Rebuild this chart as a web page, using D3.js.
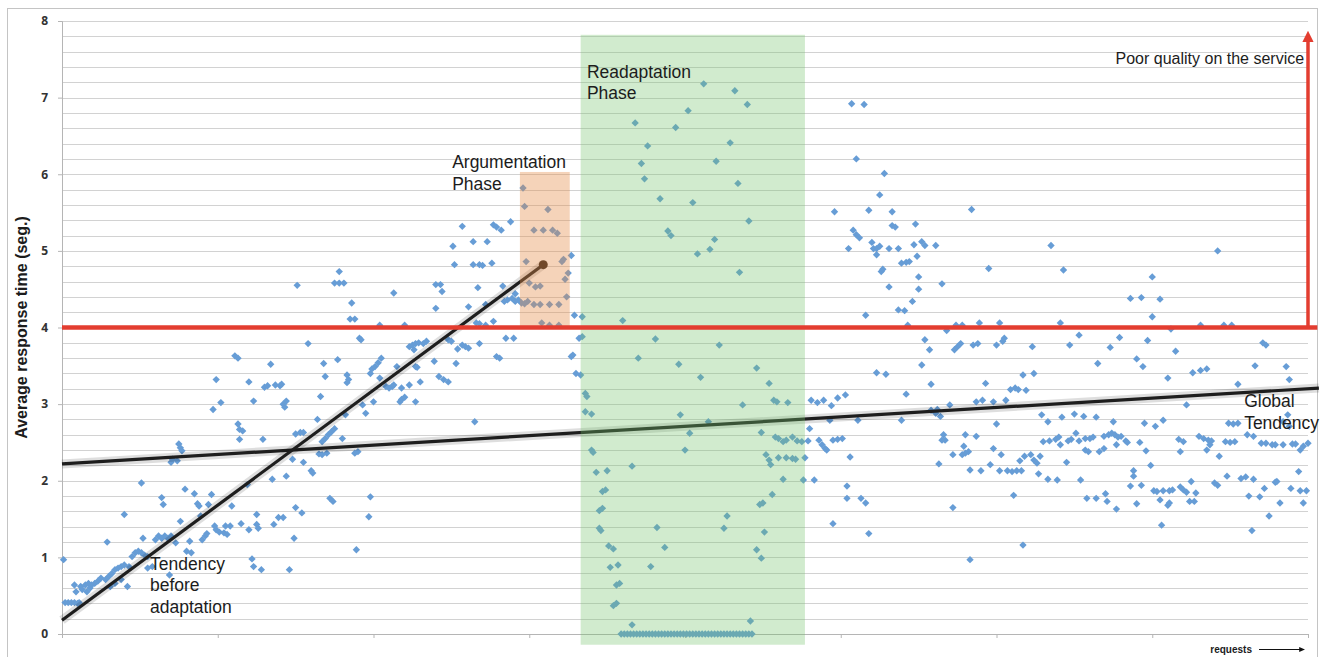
<!DOCTYPE html>
<html>
<head>
<meta charset="utf-8">
<script src="https://cdn.jsdelivr.net/npm/d3@7"></script>
<style>
body { margin: 0; background: #fff; }
text { font-family: "Liberation Sans", Arial, sans-serif; fill: #1c1c1c; }
.axis path, .axis line { stroke: #b5b5b5; }
.axis text { font-family: "Open Sans", "Liberation Sans", sans-serif; font-weight: bold; font-size: 12px; fill: #333; }
</style>
</head>
<body>
<div id="chart"></div>
<script>
// axis ticks
var yTicks = [0, 1, 2, 3, 4, 5, 6, 7, 8];
var xTicks = [0, 100, 200, 300, 400, 500, 600, 700, 800];

// [request, avg response time (s)], grouped by phase
var beforeAdaptation = [
  [1,0.97],[2,0.41],[4,0.41],[6,0.41],[8,0.41],[10,0.40],[11,0.41],[8,0.64],[9,0.55],[12,0.62],[13,0.58],
  [15,0.64],[17,0.66],[19,0.64],[21,0.66],[23,0.69],[25,0.73],[16,0.55],[18,0.60],[28,0.71],[30,0.75],
  [32,0.79],[34,0.84],[36,0.86],[38,0.88],[40,0.90],[43,0.88],[29,1.20],[31,0.62],[34,0.66],[38,0.71],
  [42,0.62],[40,1.56],[45,1.01],[47,1.06],[49,1.08],[51,1.06],[53,1.03],[55,1.01],[51,1.97],[52,1.25],
  [55,0.86],[58,0.88],[60,1.23],[62,1.28],[64,1.25],[66,1.28],[68,1.25],[70,1.28],[64,1.78],[65,1.69],
  [69,0.77],[70,2.24],[71,2.28],[74,2.26],[75,2.48],[76,2.43],[77,2.39],[73,1.19],[76,1.47],[79,1.89],
  [80,1.08],[82,1.21],[83,1.06],[85,1.83],[87,1.70],[88,1.67],[89,1.54],[90,1.23],[92,1.28],[93,1.31],
  [94,1.69],[96,1.82],[97,2.93],[98,1.41],[99,1.36],[99,3.32],[102,3.02],[101,1.33],[104,1.32],[105,1.41],
  [106,1.30],[108,1.41],[109,1.67],[111,3.63],[113,3.60],[113,2.74],[114,2.67],[116,2.65],[114,2.54],
  [115,1.44],[119,1.95],[120,3.29],[120,1.36],[122,0.98],[123,0.88],[123,3.04],[125,1.56],[125,1.43],
  [126,1.38],[128,0.84],[129,2.54],[130,3.22],[132,3.24],[134,3.52],[135,2.02],[136,1.43],[137,3.25],
  [140,3.24],[141,3.26],[139,1.52],[142,1.52],[142,3.00],[143,2.96],[144,3.04],[144,2.06],[146,0.84],
  [148,2.28],[149,1.25],[150,1.65],[150,2.61],[153,2.63],[155,2.63],[154,1.58],[155,2.24],[158,3.79],
  [160,2.13],[161,2.10],[164,2.80],[165,2.35],[151,4.55],
  [168,3.53],[169,3.36],[166,3.10],[177,3.58],[183,3.38],[184,3.32],[183,3.28],[191,3.86],[192,3.84],
  [198,3.40],[199,3.46],[201,3.49],[203,3.54],[205,3.60],[193,2.99],[195,2.88],[200,3.03],[182,2.86],
  [167,2.51],[169,2.55],[171,2.60],[173,2.64],[175,2.68],[180,2.55],[167,2.34],[170,2.36],[188,2.36],
  [190,2.38],[204,3.34],[208,3.23],[210,3.21],[212,3.23],[213,3.25],[215,3.49],[218,3.21],[217,3.03],
  [218,3.06],[220,3.09],[223,3.25],[223,3.75],[225,3.77],[227,3.79],[229,3.80],[232,3.79],[234,3.82],
  [226,3.71],[227,3.49],[228,3.48],[227,3.03],[230,3.29],[239,3.56],[242,3.36],[245,3.32],[248,3.29],
  [248,3.84],[250,3.82],[253,3.53],[254,3.72],[257,3.77],[259,3.75],[261,3.73],[265,2.77],[268,3.79],
  [279,3.62],[281,3.60],[285,3.86],[290,3.86],[172,1.77],[174,1.73],[189,1.10],[197,1.53],[198,1.79],
  [178,4.73],[175,4.58],[178,4.58],[181,4.58],[186,4.32],[185,4.11],[188,4.11],[204,4.03],[213,4.45],
  [220,4.03],[240,4.56],[243,4.56],[244,4.47],[240,4.25],[251,5.06],[252,4.82],[257,5.32],[261,4.27],
  [264,5.12],[264,4.82],[268,4.82],[270,4.81],[267,4.52],[266,4.06],[268,4.05],[272,4.03],[273,5.12],
  [272,4.30],[276,4.84],[277,5.34],[279,5.31],[282,5.27],[277,4.08],[283,4.54],[284,4.34],[286,4.36],
  [288,5.38],[289,4.38],[291,4.34],[293,4.36],[291,4.44]
];

var argumentationPhase = [
  [295,4.32],[296,5.82],[297,5.58],[312,5.54],[303,5.27],[309,5.27],[315,5.27],[318,5.23],[298,4.86],
  [309,4.82],[321,4.86],[322,4.89],[327,4.94],[325,4.71],[323,4.63],[300,4.58],[304,4.53],[307,4.54],
  [324,4.40],[297,4.31],[299,4.34],[303,4.30],[307,4.30],[313,4.30],[319,4.30],[308,4.06],[313,4.03],
  [319,4.03],[327,3.62],[328,3.64],[329,4.16]
];

var readaptationPhase = [
  [330,3.40],[333,3.38],[332,3.86],[334,3.88],[334,4.14],[360,4.09],[368,6.67],[336,3.14],[337,3.10],
  [336,2.90],[340,2.87],[370,3.60],[340,2.40],[341,2.37],[343,2.11],[350,2.13],[366,2.19],[347,1.86],
  [349,1.88],[345,1.61],[347,1.64],[345,1.38],[346,1.35],[351,1.15],[354,1.11],[352,0.87],[357,0.90],
  [356,0.64],[358,0.66],[354,0.37],[356,0.40],[366,0.12],
  [412,7.18],[432,7.09],[440,6.91],[402,6.83],[394,6.61],[376,6.37],[429,6.41],[372,6.14],[420,6.17],
  [374,5.94],[434,5.88],[384,5.68],[405,5.63],[441,5.39],[389,5.26],[391,5.20],[419,5.15],[416,5.02],
  [408,4.96],[435,4.72],
  [381,3.85],[422,3.77],[396,3.52],[446,3.47],[410,3.35],[454,3.27],[437,2.99],[457,3.05],[459,3.03],
  [466,3.02],[397,2.86],[415,2.77],[403,2.62],[449,2.63],[400,2.40],[458,2.57],[460,2.55],[463,2.51],
  [465,2.53],[469,2.57],[472,2.52],[475,2.51],[452,2.34],[454,2.27],[455,2.21],[460,2.30],[465,2.30],
  [469,2.29],[471,2.28],[463,2.02],[476,2.01],[456,1.82],[448,1.69],[450,1.71],[427,1.54],[382,1.39],
  [425,1.38],[451,1.33],[387,1.13],[446,1.10],[449,0.99],[378,0.88],[442,0.17],[477,2.30],
  [359,0],[361,0],[363,0],[365,0],[367,0],[369,0],[371,0],[373,0],[375,0],[377,0],[379,0],[381,0],
  [383,0],[385,0],[387,0],[389,0],[391,0],[393,0],[395,0],[397,0],[399,0],[401,0],[403,0],[405,0],
  [407,0],[409,0],[411,0],[413,0],[415,0],[417,0],[419,0],[421,0],[423,0],[425,0],[427,0],[429,0],
  [431,0],[433,0],[435,0],[437,0],[439,0],[441,0],[443,0]
];

var afterReadaptation = [
  [479,2.52],[480,2.68],[483,2.01],[481,3.05],[485,3.02],[489,3.05],[494,2.98],[498,3.08],[503,3.12],
  [493,2.79],[486,2.53],[488,2.47],[490,2.42],[491,2.40],[495,2.53],[498,2.54],[501,2.55],[506,2.31],
  [504,1.93],[504,1.77],[513,1.77],[516,1.71],[495,1.44],[518,1.31],[511,2.79],[523,3.41],[529,3.39],
  [539,2.79],[542,3.13],[552,3.51],[554,3.84],[557,3.71],[558,3.26],[558,2.92],[561,2.88],[562,2.93],
  [564,2.84],[573,3.71],[575,3.75],[577,3.79],[585,3.77],[588,3.79],[593,3.27],[587,3.03],[591,3.05],
  [570,2.99],[566,2.60],[567,2.53],[565,2.53],[580,2.60],[587,2.58],[579,2.45],[580,2.36],[582,2.38],
  [578,2.34],[572,2.34],[563,2.22],[583,2.14],[590,2.13],[572,1.65],[583,0.97],
  [507,6.92],[515,6.91],[510,6.20],[528,6.01],[525,5.73],[496,5.51],[518,5.53],[533,5.51],[584,5.54],
  [533,5.33],[535,5.31],[548,5.35],[508,5.27],[510,5.21],[512,5.17],[505,5.03],[520,5.11],[521,5.03],
  [523,5.03],[525,5.06],[523,4.95],[531,5.03],[537,5.03],[547,5.08],[552,5.12],[554,5.07],[561,5.07],
  [539,4.84],[542,4.85],[544,4.86],[549,4.93],[526,4.73],[527,4.76],[550,4.66],[531,4.53],[550,4.50],
  [565,4.57],[546,4.34],[537,4.23],[541,4.22],[516,4.16],[595,4.77],[543,4.03],[568,3.96],[574,4.03],
  [578,4.03],[589,4.06],
  [635,5.07],[643,4.75],[742,5.00],[700,4.66],[686,4.38],[693,4.39],[705,4.37],[700,4.14],[602,4.06],
  [641,4.06],[731,4.03],[746,4.03],[751,4.03],[712,3.98],
  [600,3.77],[604,3.82],[605,3.86],[623,3.75],[647,3.77],[653,3.90],[673,3.74],[679,3.87],[697,3.83],
  [715,3.69],[665,3.53],[690,3.59],[694,3.49],[617,3.38],[624,3.40],[710,3.34],[726,3.41],[731,3.44],
  [735,3.46],[755,3.26],[766,3.50],[771,3.80],[773,3.77],[786,3.49],[788,3.32],[609,3.19],[612,3.21],
  [614,3.19],[619,3.18],[598,3.03],[606,3.05],[722,2.99],[600,2.74],[598,2.42],[603,2.34],[596,2.21],
  [602,2.13],[607,2.13],[610,2.12],[613,2.13],[616,2.13],[615,2.26],[618,2.32],[622,2.34],[624,2.27],
  [626,2.23],[628,2.32],[627,2.09],[629,2.86],[633,2.77],[642,2.83],[650,2.87],[656,2.84],[664,2.83],
  [630,2.51],[634,2.52],[638,2.54],[640,2.57],[641,2.47],[646,2.52],[648,2.54],[651,2.62],[653,2.52],
  [657,2.55],[660,2.55],[662,2.57],[657,2.40],[659,2.38],[666,2.38],[669,2.42],[669,2.58],[672,2.60],
  [674,2.62],[676,2.60],[678,2.57],[680,2.58],[683,2.52],[677,2.47],[684,2.50],[675,2.77],[695,2.75],
  [702,2.71],[707,2.79],[692,2.50],[696,2.39],[699,2.20],[688,2.13],[688,2.06],[686,1.93],[693,1.94],
  [690,1.70],[677,1.63],[670,1.83],[671,1.73],[658,1.77],[664,1.77],[654,2.01],[645,2.24],[639,2.01],
  [633,2.02],[611,1.81],[617,1.16],[701,1.87],[703,1.86],[707,1.87],[711,1.87],[713,1.88],[718,1.92],
  [720,1.88],[722,1.85],[705,1.75],[710,1.68],[711,1.71],[724,1.73],[727,1.73],[728,1.84],[725,1.99],
  [706,1.42],[717,2.54],[720,2.51],[718,2.38],[730,2.58],[733,2.55],[736,2.53],[738,2.52],[737,2.47],
  [735,2.40],[743,2.32],[747,2.51],[750,2.50],[753,2.51],[748,2.06],[740,1.97],[742,1.94],[757,2.03],
  [760,2.05],[765,2.02],[762,1.80],[769,1.79],[772,1.90],[779,1.98],[780,1.99],[775,1.54],[782,1.71],
  [764,1.35],[789,1.90],[795,1.87],[799,1.87],[797,1.71],[794,2.12],[749,2.75],[752,2.74],[755,2.75],
  [761,2.60],[765,2.58],[770,2.49],[773,2.49],[777,2.47],[779,2.47],[784,2.47],[790,2.48],[792,2.48],
  [795,2.40],[797,2.45],[800,2.49],[784,2.77],[787,2.86],[788,2.71]
];

// trend lines, threshold and phase spans
var tendencyBefore = [[0, 0.18], [309, 4.82]];
var globalTendency = [[0, 2.22], [807, 3.21]];
var qualityThreshold = 4;
var thresholdEnd = 806;
var poorQualityArrow = [[800, 4], [800, 7.8]];
var argumentationSpan = {from: 294, to: 326, low: 4, high: 6.03};
var readaptationSpan = {from: 333, to: 477, low: -0.14, high: 7.82};


var width = 1327, height = 657;

var svg = d3.select("#chart")
    .append("svg")
    .attr("width", width)
    .attr("height", height);

var x = d3.scaleLinear().domain([0, 800]).range([62, 1308]);
var y = d3.scaleLinear().domain([0, 8]).range([634, 21]);

// outer frame
svg.append("rect")
    .attr("x", 7.5).attr("y", 8.5)
    .attr("width", 1310).attr("height", 670)
    .attr("fill", "none")
    .attr("stroke", "#c4c4c4");

// horizontal gridlines every 0.2 s
var gridVals = d3.range(1, 41).map(function (i) { return i / 5; });
svg.append("g")
    .selectAll("line")
    .data(gridVals)
    .enter().append("line")
    .attr("x1", x(0)).attr("x2", x(800))
    .attr("y1", function (d) { return Math.round(y(d)) + 0.5; })
    .attr("y2", function (d) { return Math.round(y(d)) + 0.5; })
    .attr("stroke", "#d2d2d2");

// axes
svg.append("g")
    .attr("class", "axis")
    .attr("transform", "translate(" + x(0) + ",0)")
    .call(d3.axisLeft(y).tickValues(yTicks).tickSize(4).tickPadding(10).tickFormat(d3.format("d")));

svg.append("g")
    .attr("class", "axis")
    .attr("transform", "translate(0," + y(0) + ")")
    .call(d3.axisBottom(x).tickValues(xTicks).tickSize(4).tickFormat(""));

// data points as diamonds
var diamond = {
    draw: function (ctx, size) {
        var r = Math.sqrt(size / 2);
        ctx.moveTo(0, -r);
        ctx.lineTo(r, 0);
        ctx.lineTo(0, r);
        ctx.lineTo(-r, 0);
        ctx.closePath();
    }
};
var allPoints = beforeAdaptation.concat(argumentationPhase, readaptationPhase, afterReadaptation);

svg.append("g")
    .selectAll("path")
    .data(allPoints)
    .enter().append("path")
    .attr("d", d3.symbol().type(diamond).size(27))
    .attr("transform", function (d) { return "translate(" + x(d[0]) + "," + y(d[1]) + ")"; })
    .attr("fill", "#679dd6");

var line = d3.line()
    .x(function (d) { return x(d[0]); })
    .y(function (d) { return y(d[1]); });

// tendency lines with a soft shadow
[globalTendency, tendencyBefore].forEach(function (pts) {
    svg.append("path").attr("d", line(pts))
        .attr("stroke", "rgba(0,0,0,0.13)").attr("stroke-width", 9).attr("fill", "none");
    svg.append("path").attr("d", line(pts))
        .attr("stroke", "#1e1e1e").attr("stroke-width", 3.2).attr("fill", "none");
});
svg.append("circle")
    .attr("cx", x(tendencyBefore[1][0]))
    .attr("cy", y(tendencyBefore[1][1]))
    .attr("r", 4.5)
    .attr("fill", "#2a2018");

// phase highlight boxes
svg.append("rect")
    .attr("x", x(argumentationSpan.from))
    .attr("y", y(argumentationSpan.high))
    .attr("width", x(argumentationSpan.to) - x(argumentationSpan.from))
    .attr("height", y(argumentationSpan.low) - y(argumentationSpan.high))
    .attr("fill", "rgba(228,140,70,0.38)");

svg.append("rect")
    .attr("x", x(readaptationSpan.from))
    .attr("y", y(readaptationSpan.high))
    .attr("width", x(readaptationSpan.to) - x(readaptationSpan.from))
    .attr("height", y(readaptationSpan.low) - y(readaptationSpan.high))
    .attr("fill", "rgba(115,195,105,0.33)");

// threshold and arrow
svg.append("defs").append("marker")
    .attr("id", "redhead")
    .attr("viewBox", "0 0 10 10")
    .attr("refX", 5).attr("refY", 5)
    .attr("markerWidth", 3.2).attr("markerHeight", 3.2)
    .attr("orient", "auto")
    .append("path").attr("d", "M0,0L10,5L0,10Z").attr("fill", "#e33d30");

svg.append("line")
    .attr("x1", x(0)).attr("x2", x(thresholdEnd))
    .attr("y1", y(qualityThreshold)).attr("y2", y(qualityThreshold))
    .attr("stroke", "#e33d30").attr("stroke-width", 4.5);

svg.append("path")
    .attr("d", line(poorQualityArrow))
    .attr("stroke", "#e33d30").attr("stroke-width", 3.5)
    .attr("marker-end", "url(#redhead)");

// annotations
function note(lines, xv, yv, anchor, size) {
    var t = svg.append("text")
        .attr("x", x(xv)).attr("y", y(yv))
        .attr("text-anchor", anchor || "start")
        .style("font-size", (size || 17.5) + "px");
    lines.forEach(function (s, i) {
        t.append("tspan").attr("x", x(xv)).attr("dy", i === 0 ? 0 : 21.5).text(s);
    });
}
note(["Readaptation", "Phase"], 337, 7.26);
note(["Argumentation", "Phase"], 250.5, 6.08);
note(["Poor quality on the service"], 797.5, 7.44, "end", 16);
note(["Tendency", "before", "adaptation"], 56.5, 0.84);
note(["Global", "Tendency"], 759, 2.96);

// axis titles
svg.append("text")
    .attr("transform", "translate(27," + ((y(0) + y(8)) / 2) + ") rotate(-90)")
    .attr("text-anchor", "middle")
    .style("font-size", "16px")
    .style("font-weight", "bold")
    .text("Average response time (seg.)");

svg.append("text")
    .attr("x", 1252).attr("y", 653)
    .attr("text-anchor", "end")
    .style("font-size", "10px")
    .style("font-weight", "bold")
    .text("requests");

svg.append("defs").append("marker")
    .attr("id", "blackhead")
    .attr("viewBox", "0 0 10 10")
    .attr("refX", 8).attr("refY", 5)
    .attr("markerWidth", 5).attr("markerHeight", 5)
    .attr("orient", "auto")
    .append("path").attr("d", "M0,1L10,5L0,9Z").attr("fill", "#111");

svg.append("line")
    .attr("x1", 1259).attr("x2", 1304)
    .attr("y1", 649.5).attr("y2", 649.5)
    .attr("stroke", "#111").attr("stroke-width", 1.2)
    .attr("marker-end", "url(#blackhead)");
</script>
</body>
</html>
